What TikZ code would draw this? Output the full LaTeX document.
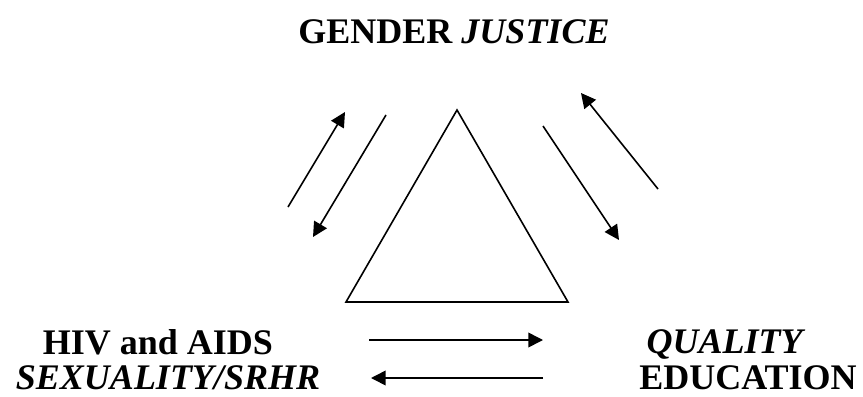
\documentclass[tikz,border=0pt]{standalone}
\usepackage{fontspec}
\setmainfont{Liberation Serif}
\usetikzlibrary{arrows.meta}

\begin{document}
\begin{tikzpicture}[
  x=0.75pt, y=-0.75pt,
  lbl/.style={font=\fontsize{27}{32}\selectfont\bfseries, inner sep=0pt, anchor=base},
  link/.style={-{Triangle[length=11pt, width=11pt]}, line width=1.2pt},
  tri/.style={line width=1.2pt, line join=miter}
]
  \useasboundingbox (0,0) rectangle (863,396);

  % labels
  \node[lbl] (gender)  at (454,43)  {GENDER \textit{JUSTICE}};
  \node[lbl] (hiv)     at (158,354) {HIV and AIDS};
  \node[lbl] (sex)     at (168,389) {\textit{SEXUALITY/SRHR}};
  \node[lbl] (quality) at (726,353) {\textit{QUALITY}};
  \node[lbl] (edu)     at (748,389) {EDUCATION};

  % triangle
  \coordinate (top) at (457,110);
  \coordinate (bl)  at (346,302);
  \coordinate (br)  at (568,302);
  \draw[tri] (top) -- (bl) -- (br) -- cycle;

  % arrow ends, left pair
  \coordinate (l1a) at (288,207);
  \coordinate (l1b) at (345,112);
  \coordinate (l2a) at (386,115);
  \coordinate (l2b) at (313,237);
  % right pair
  \coordinate (r1a) at (543,126);
  \coordinate (r1b) at (619,240);
  \coordinate (r2a) at (658,189);
  \coordinate (r2b) at (581,93);
  % bottom pair
  \coordinate (b1a) at (369,340);
  \coordinate (b1b) at (543,340);
  \coordinate (b2a) at (543,378);
  \coordinate (b2b) at (371,378);

  \draw[link] (l1a) -- (l1b);
  \draw[link] (l2a) -- (l2b);
  \draw[link] (r1a) -- (r1b);
  \draw[link] (r2a) -- (r2b);
  \draw[link] (b1a) -- (b1b);
  \draw[link] (b2a) -- (b2b);
\end{tikzpicture}
\end{document}
